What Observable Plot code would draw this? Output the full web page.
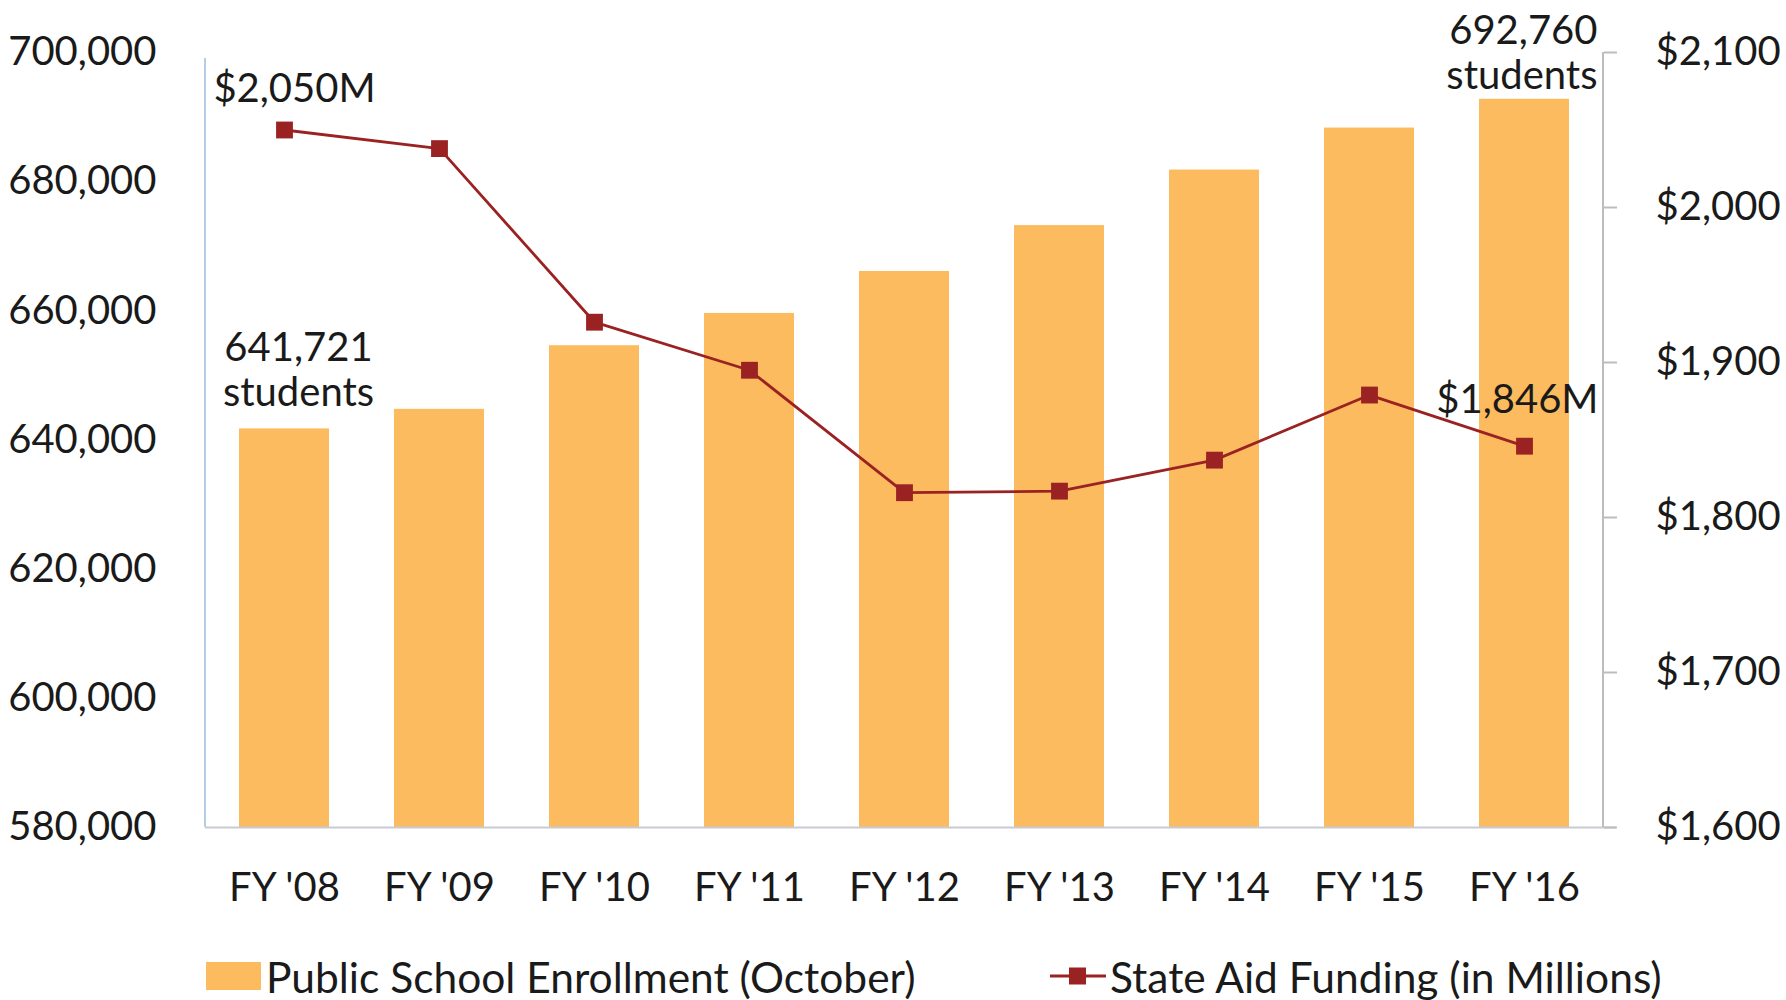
<!DOCTYPE html>
<html><head><meta charset="utf-8">
<script src="https://cdn.jsdelivr.net/npm/d3@7"></script>
<script src="https://cdn.jsdelivr.net/npm/@observablehq/plot@0.6"></script>
<style>
body{margin:0;background:#fff;font-family:Lato, "Open Sans", sans-serif;color:#1a1a1a;}
#wrap{position:relative;width:1786px;height:1000px;overflow:hidden;}
#legend{position:absolute;left:0;top:950px;width:1786px;height:50px;font-size:42.5px;}
.item{position:absolute;top:0;display:flex;align-items:center;height:52px;}
</style></head><body><div id="wrap"><div id="chart"></div>
<div id="legend">
  <div class="item" style="left:206px"><span style="display:inline-block;width:55px;height:28px;background:#FDBB5F;margin-right:5px"></span><span>Public School Enrollment (October)</span></div>
  <div class="item" style="left:1050px"><svg width="56" height="28" style="margin-right:4px"><line x1="0" y1="14" x2="56" y2="14" stroke="#9B2222" stroke-width="3"/><rect x="19" y="5.5" width="17" height="17" fill="#9B2222"/></svg><span>State Aid Funding (in Millions)</span></div>
</div></div>
<script>
const years = ["FY '08","FY '09","FY '10","FY '11","FY '12","FY '13","FY '14","FY '15","FY '16"];
const enrollment = [641721, 644750, 654600, 659600, 666100, 673200, 681800, 688300, 692760];
const funding = [2050, 2038, 1926, 1895, 1816, 1817, 1837, 1879, 1846];
const leftTicks = [580000, 600000, 620000, 640000, 660000, 680000, 700000];
const rightTicks = [1600, 1700, 1800, 1900, 2000, 2100];

// map funding ($M) onto the enrollment axis
const fLo = 1600, fHi = 2100, eLo = 580000, eHi = 700000;
const toY = f => eLo + (f - fLo) * (eHi - eLo) / (fHi - fLo);
const fromY = v => fLo + (v - eLo) * (fHi - fLo) / (eHi - eLo);

const data = years.map((y, i) => ({year: y, enroll: enrollment[i], fund: funding[i], fy: toY(funding[i])}));
const first = [data[0]], last = [data[data.length - 1]];

const barColor = "#FDBB5F", lineColor = "#9B2222", textColor = "#1a1a1a";

const chart = Plot.plot({
  width: 1786, height: 930,
  marginTop: 52, marginBottom: 103, marginLeft: 205, marginRight: 183,
  style: {fontFamily: "Lato, 'Open Sans', sans-serif", fontSize: "40px", color: textColor, background: "#fff"},
  x: {type: "band", domain: years, paddingInner: 0.42, paddingOuter: 0.21},
  y: {domain: [eLo, eHi]},
  marks: [
    Plot.barY(data, {x: "year", y1: eLo, y2: "enroll", fill: barColor}),
    Plot.ruleY([eLo], {stroke: "#C8CCD2", strokeWidth: 2, insetRight: -13}),
    Plot.line(data, {x: "year", y: "fy", stroke: lineColor, strokeWidth: 2.8}),
    Plot.dot(data, {x: "year", y: "fy", symbol: "square", r: 9.5, fill: lineColor}),
    Plot.axisY(leftTicks, {anchor: "left", tickSize: 0, tickPadding: 49, fontSize: 40, fill: textColor, tickFormat: d3.format(","), label: null}),
    Plot.axisY(rightTicks.map(toY), {anchor: "right", tickSize: 13, tickPadding: 39, fontSize: 40, fill: textColor, stroke: "#BDBDBD", strokeWidth: 2, tickFormat: v => "$" + d3.format(",")(Math.round(fromY(v))), label: null}),
    Plot.axisX({tickSize: 0, tickPadding: 45, fontSize: 40, fill: textColor, label: null}),
    // annotations
    Plot.text(first, {x: "year", y: "fy", text: d => "$" + d3.format(",")(d.fund) + "M", dy: -41, dx: 10, fontSize: 40, fill: textColor}),
    Plot.text(first, {x: "year", y: "enroll", text: d => d3.format(",")(d.enroll) + "\nstudents", dy: -60, dx: 14, lineAnchor: "middle", lineHeight: 1.13, fontSize: 40, fill: textColor}),
    Plot.text(last, {x: "year", y: "enroll", text: d => d3.format(",")(d.enroll) + "\nstudents", dy: -47, dx: 73, textAnchor: "end", lineAnchor: "middle", lineHeight: 1.13, fontSize: 40, fill: textColor}),
    Plot.text(last, {x: "year", y: "fy", text: d => "$" + d3.format(",")(d.fund) + "M", dy: -46, dx: 74, textAnchor: "end", fontSize: 40, fill: textColor})
  ]
});
document.getElementById("chart").appendChild(chart);

// axis lines (left: light blue, right: gray)
const ys = chart.scale("y").range; // [bottom, top]
const svg = d3.select(chart);
svg.append("line").attr("x1", 205).attr("x2", 205).attr("y1", ys[1] + 6).attr("y2", ys[0])
  .attr("stroke", "#B7CDE6").attr("stroke-width", 2);
svg.append("line").attr("x1", 1786 - 183).attr("x2", 1786 - 183).attr("y1", ys[1]).attr("y2", ys[0])
  .attr("stroke", "#BDBDBD").attr("stroke-width", 2);
</script></body></html>
